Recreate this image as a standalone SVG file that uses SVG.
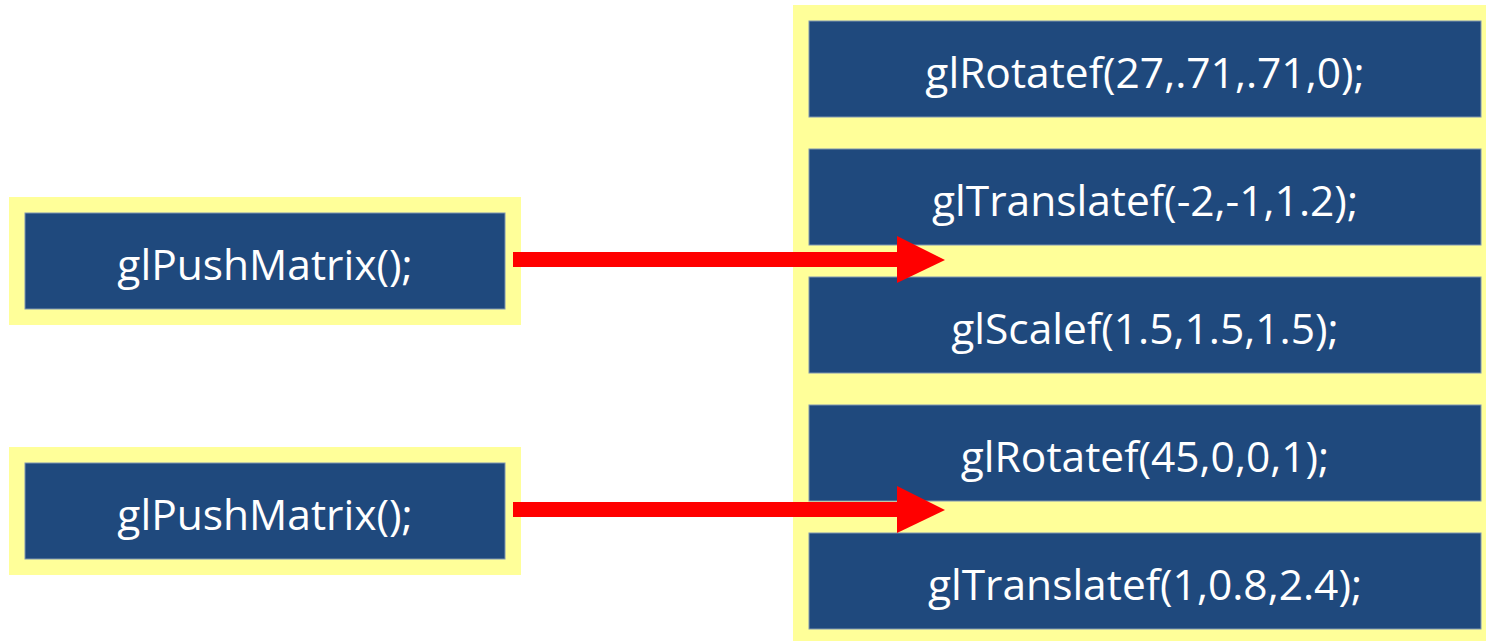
<svg xmlns="http://www.w3.org/2000/svg" width="1486" height="641" viewBox="0 0 1486 641">
<defs>
<style>
.pan{fill:#FFFF99}
.box{fill:#1F497D;stroke:#7F96B2;stroke-width:1}
.t{fill:#FFFFFF;font-family:"Open Sans","Liberation Sans",sans-serif;font-size:42.5px;text-anchor:middle;dominant-baseline:central}
.ln{stroke:#FF0000;stroke-width:15;fill:none}
.hd{fill:#FF0000}
</style>
</defs>
<rect width="1486" height="641" fill="#FFFFFF"/>
<g id="right-panel">
<rect class="pan" x="793" y="5" width="693" height="636"/>
</g>
<g id="n-rotate1"><rect class="box" x="809" y="21" width="672" height="96"/><text class="t" x="1145" y="71">glRotatef(27,.71,.71,0);</text></g>
<g id="n-translate1"><rect class="box" x="809" y="149" width="672" height="96"/><text class="t" x="1145" y="199">glTranslatef(-2,-1,1.2);</text></g>
<g id="n-scale"><rect class="box" x="809" y="277" width="672" height="96"/><text class="t" x="1145" y="327">glScalef(1.5,1.5,1.5);</text></g>
<g id="n-rotate2"><rect class="box" x="809" y="405" width="672" height="96"/><text class="t" x="1145" y="455">glRotatef(45,0,0,1);</text></g>
<g id="n-translate2"><rect class="box" x="809" y="533" width="672" height="96"/><text class="t" x="1145" y="583">glTranslatef(1,0.8,2.4);</text></g>
<g id="n-push1"><rect class="pan" x="9" y="197" width="512" height="128"/><rect class="box" x="25" y="213" width="480" height="96"/><text class="t" x="265" y="263">glPushMatrix();</text></g>
<g id="n-push2"><rect class="pan" x="9" y="447" width="512" height="128"/><rect class="box" x="25" y="463" width="480" height="96"/><text class="t" x="265" y="513">glPushMatrix();</text></g>
<g id="connectors">
<line class="ln" x1="513" y1="259.5" x2="899" y2="259.5"/>
<polygon class="hd" points="897,236 945,260 897,283"/>
<line class="ln" x1="513" y1="509.5" x2="899" y2="509.5"/>
<polygon class="hd" points="897,486 945,510 897,533"/>
</g>
</svg>
